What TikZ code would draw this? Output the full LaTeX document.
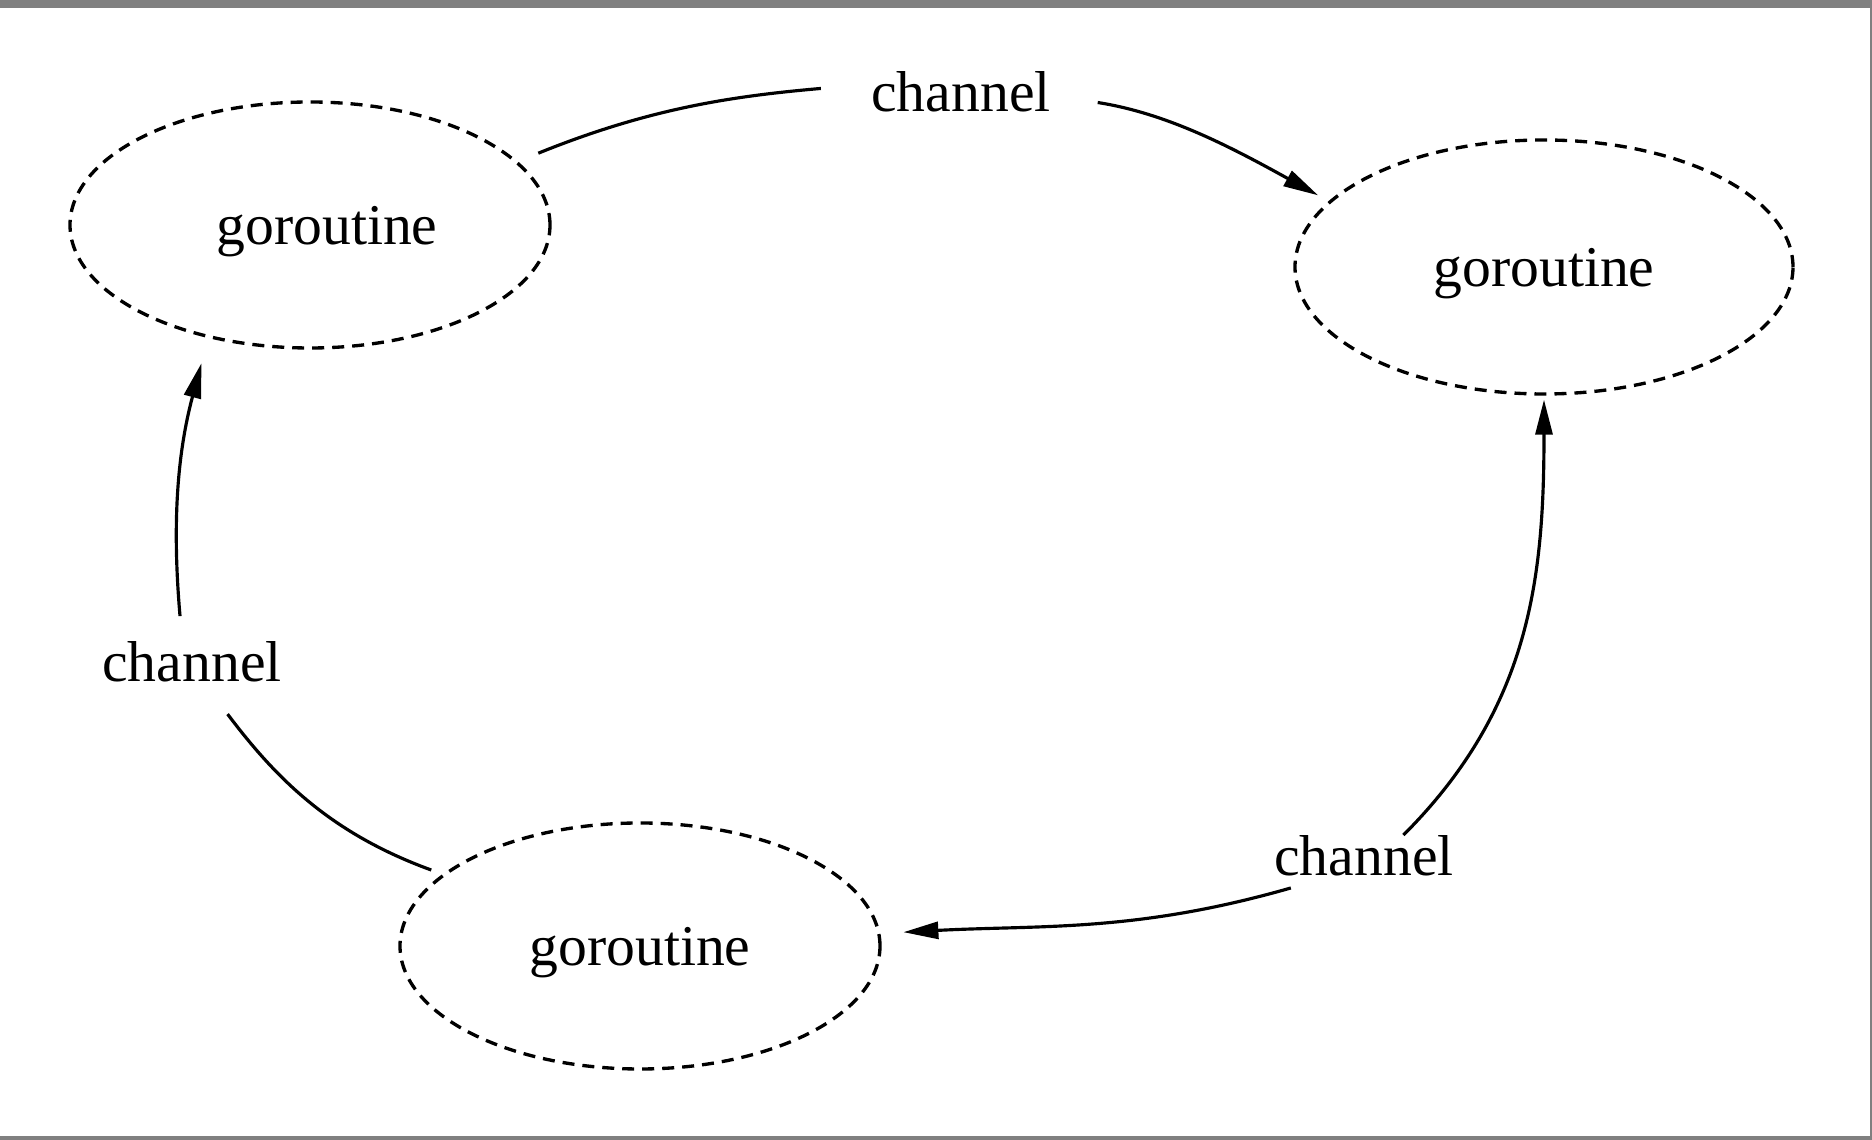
\documentclass[tikz,border=0pt]{standalone}
\usepackage{fontspec}
\setmainfont{Liberation Serif}
\usepackage{tikz}
\usetikzlibrary{arrows.meta}
\usetikzlibrary{shapes.geometric}
\tikzset{routine/.style = {ellipse, draw, dash pattern=on 1.2mm off 0.8mm, line width=0.95pt,
                           minimum width=4.8cm, minimum height=2.46cm, inner sep=0pt, text depth=0pt},
         chan/.style = {inner sep=0pt},
         link/.style = {line width=0.9pt},
         flow/.style = {link, -{Triangle[length=3.5mm, width=1.7mm]}}}

\begin{document}
\begin{tikzpicture}[font=\fontsize{16.4pt}{20pt}\selectfont]
      \useasboundingbox (0, 0) rectangle (18.72, 11.40);
      \fill [gray] (0, 11.32) rectangle (18.72, 11.40);
      \fill [gray] (0, 0) rectangle (18.72, 0.04);
      \fill [gray] (18.70, 0) rectangle (18.72, 11.40);

      \node (g1) [routine] at (3.10, 9.15) {\hspace*{0.34cm}goroutine};% text sits right of centre
      \node (g2) [routine, minimum width=4.98cm, minimum height=2.54cm] at (15.44, 8.73) {goroutine};
      \node (g3) [routine] at (6.40, 1.94) {goroutine};

      \node (c1) [chan] at (9.61, 10.48) {channel};
      \node (c2) [chan] at (13.64, 2.84) {channel};
      \node (c3) [chan] at (1.92, 4.78) {channel};

      \draw [link, shorten <=0.22cm, shorten >=0.5cm] (g1.17) to[out=22, in=185] (c1.175);
      \draw [flow, shorten <=0.47cm, shorten >=0.12cm] (c1.-2) to[out=-9, in=151] (g2.163);
      \draw [flow, shorten >=0.04cm] (c2.28) to[out=45, in=-90] (g2.south);
      \draw [flow, shorten >=0.23cm] ([yshift=-1.1mm]c2.196) to[out=196, in=3] (g3.3);
      \draw [link, shorten <=0.39cm, shorten >=0.12cm] (c3.-60) to[out=-53, in=160] (g3.160);
      \draw [flow, shorten <=0.25cm, shorten >=0.26cm] (c3.115) to[out=95, in=-105] (g1.228);% tip sits below the dashes
\end{tikzpicture}
\end{document}
